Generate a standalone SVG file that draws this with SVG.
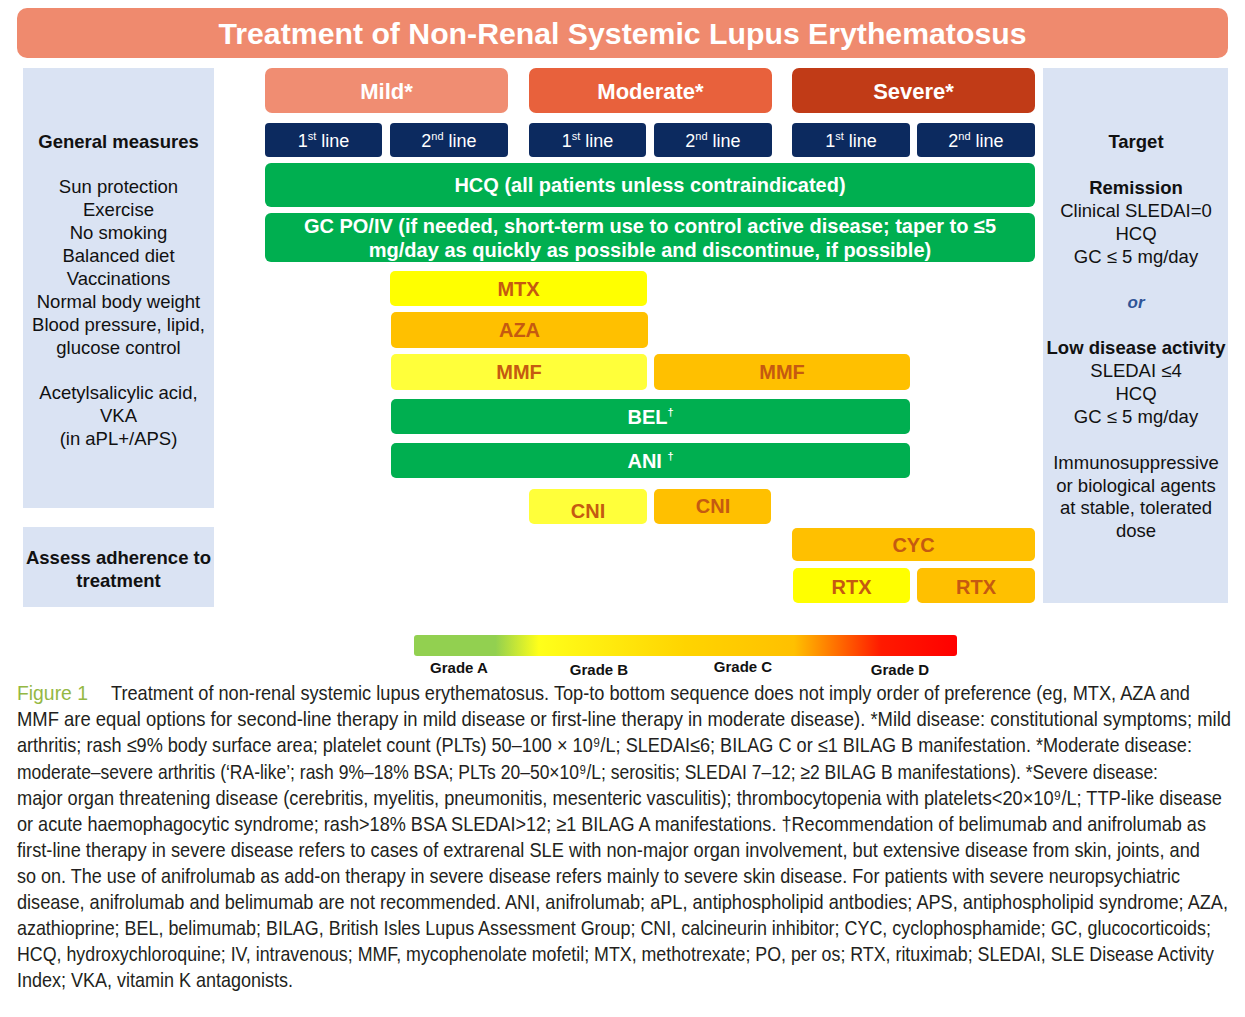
<svg xmlns="http://www.w3.org/2000/svg" width="1245" height="1017" viewBox="0 0 1245 1017">
<style>
.title{font-family:"Liberation Sans",Arial,sans-serif;font-weight:bold;font-size:29px;fill:#fff;text-anchor:middle}
.sev{font-family:"Liberation Sans",Arial,sans-serif;font-weight:bold;font-size:22px;fill:#fff;text-anchor:middle}
.line{font-family:"Liberation Sans",Arial,sans-serif;font-size:18px;fill:#fff;text-anchor:middle}
.wb{font-family:"Liberation Sans",Arial,sans-serif;font-weight:bold;font-size:20px;fill:#fff;text-anchor:middle}
.drug{font-family:"Liberation Sans",Arial,sans-serif;font-weight:bold;font-size:20px;fill:#C55A11;text-anchor:middle}
.pan{font-family:"Liberation Sans",Arial,sans-serif;font-size:18.5px;fill:#111;text-anchor:middle}
.panb{font-family:"Liberation Sans",Arial,sans-serif;font-size:18.5px;font-weight:bold;fill:#111;text-anchor:middle}
.grade{font-family:"Liberation Sans",Arial,sans-serif;font-size:15px;font-weight:bold;fill:#111;text-anchor:middle}
.cap{font-family:"Liberation Sans",Arial,sans-serif;font-size:17px;fill:#231F20}
.panel{fill:#DAE3F3}
.navy{fill:#0C2A5F}
.green{fill:#00AF50}
.yel{fill:#FFFF00}
.lyel{fill:#FFFF3A}
.org{fill:#FFC000}
</style>
<defs>
<linearGradient id="gradeGrad" x1="0" y1="0" x2="1" y2="0">
<stop offset="0" stop-color="#92D050"/>
<stop offset="0.15" stop-color="#92D050"/>
<stop offset="0.23" stop-color="#FFFF1A"/>
<stop offset="0.5" stop-color="#FFD400"/>
<stop offset="0.7" stop-color="#FFC000"/>
<stop offset="0.86" stop-color="#FF1A00"/>
<stop offset="1" stop-color="#FF0000"/>
</linearGradient>
</defs>
<rect width="1245" height="1017" fill="#fff"/>

<g id="header">
<rect x="17" y="8" width="1211" height="50" rx="10" fill="#EF8A6E"/>
<text class="title" x="622.5" y="44" textLength="808" lengthAdjust="spacingAndGlyphs">Treatment of Non-Renal Systemic Lupus Erythematosus</text>
</g>

<g id="general-measures">
<rect class="panel" x="23" y="68" width="191" height="440"/>
<text class="panb" x="118.5" y="148">General measures</text>
<text class="pan" x="118.5" y="193">Sun protection</text>
<text class="pan" x="118.5" y="216">Exercise</text>
<text class="pan" x="118.5" y="239">No smoking</text>
<text class="pan" x="118.5" y="262">Balanced diet</text>
<text class="pan" x="118.5" y="285">Vaccinations</text>
<text class="pan" x="118.5" y="308">Normal body weight</text>
<text class="pan" x="118.5" y="331">Blood pressure, lipid,</text>
<text class="pan" x="118.5" y="354">glucose control</text>
<text class="pan" x="118.5" y="399">Acetylsalicylic acid,</text>
<text class="pan" x="118.5" y="422">VKA</text>
<text class="pan" x="118.5" y="445">(in aPL+/APS)</text>
</g>

<g id="adherence">
<rect class="panel" x="23" y="527" width="191" height="80"/>
<text class="panb" x="118.5" y="564">Assess adherence to</text>
<text class="panb" x="118.5" y="587">treatment</text>
</g>

<g id="target">
<rect class="panel" x="1043" y="68" width="185" height="535"/>
<text class="panb" x="1136" y="148">Target</text>
<text class="panb" x="1136" y="194">Remission</text>
<text class="pan" x="1136" y="217">Clinical SLEDAI=0</text>
<text class="pan" x="1136" y="240">HCQ</text>
<text class="pan" x="1136" y="263">GC ≤ 5 mg/day</text>
<text class="panb" x="1136" y="308" style="font-style:italic;fill:#2F5597;font-size:17px">or</text>
<text class="panb" x="1136" y="354">Low disease activity</text>
<text class="pan" x="1136" y="377">SLEDAI ≤4</text>
<text class="pan" x="1136" y="400">HCQ</text>
<text class="pan" x="1136" y="423">GC ≤ 5 mg/day</text>
<text class="pan" x="1136" y="469">Immunosuppressive</text>
<text class="pan" x="1136" y="492">or biological agents</text>
<text class="pan" x="1136" y="514">at stable, tolerated</text>
<text class="pan" x="1136" y="537">dose</text>
</g>

<g id="mild">
<rect x="265" y="68" width="243" height="45" rx="7" fill="#F08D72"/>
<text class="sev" x="386.5" y="99">Mild*</text>
</g>
<g id="moderate">
<rect x="529" y="68" width="243" height="45" rx="7" fill="#E8613C"/>
<text class="sev" x="650.5" y="99">Moderate*</text>
</g>
<g id="severe">
<rect x="792" y="68" width="243" height="45" rx="7" fill="#C13B17"/>
<text class="sev" x="913.5" y="99">Severe*</text>
</g>

<g id="mild-1st">
<rect class="navy" x="265" y="123" width="117" height="34" rx="4"/>
<text class="line" x="323.5" y="147">1<tspan font-size="11" dy="-7">st</tspan><tspan dy="7"> line</tspan></text>
</g>
<g id="mild-2nd">
<rect class="navy" x="390" y="123" width="118" height="34" rx="4"/>
<text class="line" x="449" y="147">2<tspan font-size="11" dy="-7">nd</tspan><tspan dy="7"> line</tspan></text>
</g>
<g id="moderate-1st">
<rect class="navy" x="529" y="123" width="117" height="34" rx="4"/>
<text class="line" x="587.5" y="147">1<tspan font-size="11" dy="-7">st</tspan><tspan dy="7"> line</tspan></text>
</g>
<g id="moderate-2nd">
<rect class="navy" x="654" y="123" width="118" height="34" rx="4"/>
<text class="line" x="713" y="147">2<tspan font-size="11" dy="-7">nd</tspan><tspan dy="7"> line</tspan></text>
</g>
<g id="severe-1st">
<rect class="navy" x="792" y="123" width="118" height="34" rx="4"/>
<text class="line" x="851" y="147">1<tspan font-size="11" dy="-7">st</tspan><tspan dy="7"> line</tspan></text>
</g>
<g id="severe-2nd">
<rect class="navy" x="917" y="123" width="118" height="34" rx="4"/>
<text class="line" x="976" y="147">2<tspan font-size="11" dy="-7">nd</tspan><tspan dy="7"> line</tspan></text>
</g>

<g id="hcq">
<rect class="green" x="265" y="163" width="770" height="44" rx="6"/>
<text class="wb" x="650" y="192">HCQ (all patients unless contraindicated)</text>
</g>
<g id="gc">
<rect class="green" x="265" y="213" width="770" height="49" rx="6"/>
<text class="wb" x="650" y="233">GC PO/IV (if needed, short-term use to control active disease; taper to ≤5</text>
<text class="wb" x="650" y="257">mg/day as quickly as possible and discontinue, if possible)</text>
</g>

<g id="mtx">
<rect class="yel" x="390" y="271" width="257" height="35" rx="5"/>
<text class="drug" x="518.5" y="296">MTX</text>
</g>
<g id="aza">
<rect class="org" x="391" y="312" width="257" height="36" rx="5"/>
<text class="drug" x="519.5" y="337">AZA</text>
</g>
<g id="mmf-1">
<rect class="lyel" x="391" y="354" width="256" height="36" rx="5"/>
<text class="drug" x="519" y="379">MMF</text>
</g>
<g id="mmf-2">
<rect class="org" x="654" y="354" width="256" height="36" rx="5"/>
<text class="drug" x="782" y="379">MMF</text>
</g>
<g id="bel">
<rect class="green" x="391" y="399" width="519" height="35" rx="5"/>
<text class="wb" x="650.5" y="424">BEL<tspan font-size="11" dy="-8">†</tspan></text>
</g>
<g id="ani">
<rect class="green" x="391" y="443" width="519" height="35" rx="5"/>
<text class="wb" x="650.5" y="468">ANI <tspan font-size="11" dy="-8">†</tspan></text>
</g>
<g id="cni-1">
<rect class="lyel" x="529" y="489" width="118" height="35" rx="5"/>
<text class="drug" x="588" y="518">CNI</text>
</g>
<g id="cni-2">
<rect class="org" x="654" y="489" width="117" height="35" rx="5"/>
<text class="drug" x="713" y="513">CNI</text>
</g>
<g id="cyc">
<rect class="org" x="792" y="528" width="243" height="33" rx="5"/>
<text class="drug" x="913.5" y="552">CYC</text>
</g>
<g id="rtx-1">
<rect class="yel" x="793" y="568" width="117" height="35" rx="5"/>
<text class="drug" x="851.5" y="594">RTX</text>
</g>
<g id="rtx-2">
<rect class="org" x="917" y="568" width="118" height="35" rx="5"/>
<text class="drug" x="976" y="594">RTX</text>
</g>

<g id="connectors"></g>

<g id="grade-legend">
<rect x="414" y="635" width="543" height="21" rx="3" fill="url(#gradeGrad)"/>
<text class="grade" x="459" y="673">Grade A</text>
<text class="grade" x="599" y="675">Grade B</text>
<text class="grade" x="743" y="672">Grade C</text>
<text class="grade" x="900" y="675">Grade D</text>
</g>

<g id="caption" transform="scale(1,1.18)">
<text class="cap" x="17" y="593.2" style="fill:#94B843" textLength="71" lengthAdjust="spacingAndGlyphs">Figure 1</text>
<text class="cap" x="111" y="593.2" textLength="1079" lengthAdjust="spacingAndGlyphs">Treatment of non-renal systemic lupus erythematosus. Top-to bottom sequence does not imply order of preference (eg, MTX, AZA and</text>
<text class="cap" x="17" y="615.3" textLength="1214" lengthAdjust="spacingAndGlyphs">MMF are equal options for second-line therapy in mild disease or first-line therapy in moderate disease). *Mild disease: constitutional symptoms; mild</text>
<text class="cap" x="17" y="637.3" textLength="1175" lengthAdjust="spacingAndGlyphs">arthritis; rash ≤9% body surface area; platelet count (PLTs) 50–100 × 10⁹/L; SLEDAI≤6; BILAG C or ≤1 BILAG B manifestation. *Moderate disease:</text>
<text class="cap" x="17" y="660.2" textLength="1141" lengthAdjust="spacingAndGlyphs">moderate–severe arthritis (‘RA-like’; rash 9%–18% BSA; PLTs 20–50×10⁹/L; serositis; SLEDAI 7–12; ≥2 BILAG B manifestations). *Severe disease:</text>
<text class="cap" x="17" y="682.2" textLength="1205" lengthAdjust="spacingAndGlyphs">major organ threatening disease (cerebritis, myelitis, pneumonitis, mesenteric vasculitis); thrombocytopenia with platelets&lt;20×10⁹/L; TTP-like disease</text>
<text class="cap" x="17" y="704.2" textLength="1189" lengthAdjust="spacingAndGlyphs">or acute haemophagocytic syndrome; rash&gt;18% BSA SLEDAI&gt;12; ≥1 BILAG A manifestations. †Recommendation of belimumab and anifrolumab as</text>
<text class="cap" x="17" y="726.3" textLength="1183" lengthAdjust="spacingAndGlyphs">first-line therapy in severe disease refers to cases of extrarenal SLE with non-major organ involvement, but extensive disease from skin, joints, and</text>
<text class="cap" x="17" y="748.3" textLength="1163" lengthAdjust="spacingAndGlyphs">so on. The use of anifrolumab as add-on therapy in severe disease refers mainly to severe skin disease. For patients with severe neuropsychiatric</text>
<text class="cap" x="17" y="770.3" textLength="1211" lengthAdjust="spacingAndGlyphs">disease, anifrolumab and belimumab are not recommended. ANI, anifrolumab; aPL, antiphospholipid antbodies; APS, antiphospholipid syndrome; AZA,</text>
<text class="cap" x="17" y="792.4" textLength="1194" lengthAdjust="spacingAndGlyphs">azathioprine; BEL, belimumab; BILAG, British Isles Lupus Assessment Group; CNI, calcineurin inhibitor; CYC, cyclophosphamide; GC, glucocorticoids;</text>
<text class="cap" x="17" y="814.4" textLength="1197" lengthAdjust="spacingAndGlyphs">HCQ, hydroxychloroquine; IV, intravenous; MMF, mycophenolate mofetil; MTX, methotrexate; PO, per os; RTX, rituximab; SLEDAI, SLE Disease Activity</text>
<text class="cap" x="17" y="836.4" textLength="276" lengthAdjust="spacingAndGlyphs">Index; VKA, vitamin K antagonists.</text>
</g>
</svg>
